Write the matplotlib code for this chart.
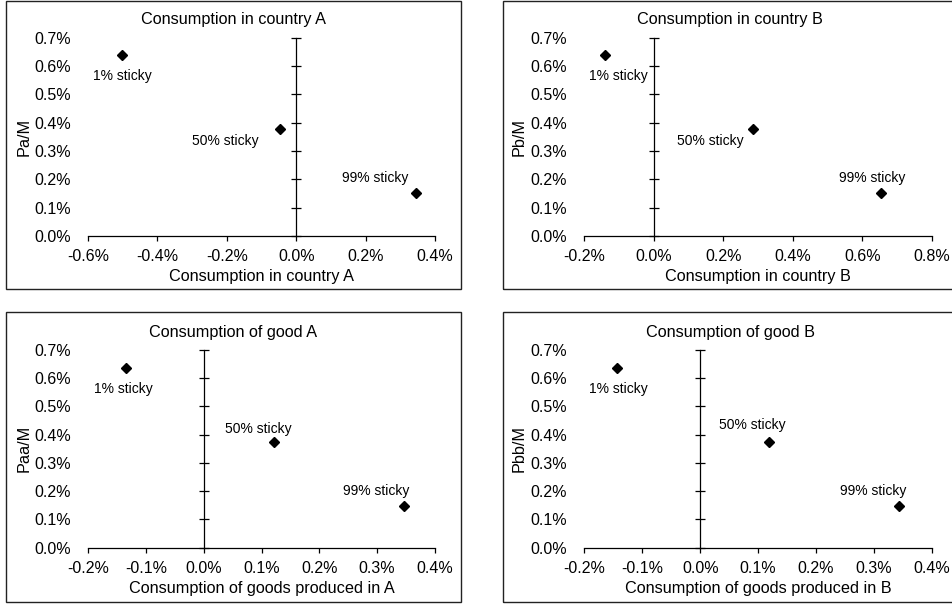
import matplotlib
matplotlib.use("Agg")
import matplotlib.pyplot as plt
from matplotlib.patches import Rectangle
from matplotlib.ticker import FuncFormatter

plt.rcParams['font.family'] = ['Liberation Sans', 'DejaVu Sans']
plt.rcParams['font.size'] = 11.5
plt.rcParams['axes.unicode_minus'] = False

# data (values in percent)
labels = ["1% sticky", "50% sticky", "99% sticky"]

cons_a_x = [-0.503, -0.047, 0.344]
cons_a_y = [0.639, 0.377, 0.151]
cons_b_x = [-0.141, 0.286, 0.653]
cons_b_y = [0.639, 0.377, 0.151]
good_a_x = [-0.134, 0.121, 0.347]
good_a_y = [0.637, 0.374, 0.148]
good_b_x = [-0.144, 0.119, 0.343]
good_b_y = [0.637, 0.374, 0.148]

titles = ["Consumption in country A", "Consumption in country B",
          "Consumption of good A", "Consumption of good B"]
xlabels = ["Consumption in country A", "Consumption in country B",
           "Consumption of goods produced in A", "Consumption of goods produced in B"]
ylabels = ["Pa/M", "Pb/M", "Paa/M", "Pbb/M"]
xticks_list = [[-0.6, -0.4, -0.2, 0.0, 0.2, 0.4],
               [-0.2, 0.0, 0.2, 0.4, 0.6, 0.8],
               [-0.2, -0.1, 0.0, 0.1, 0.2, 0.3, 0.4],
               [-0.2, -0.1, 0.0, 0.1, 0.2, 0.3, 0.4]]
yticks = [0.0, 0.1, 0.2, 0.3, 0.4, 0.5, 0.6, 0.7]

# label offsets in pixels (text centre relative to point, y up)
offsets = [[(1, -21), (-55, -12), (-40, 15)],
           [(14, -21), (-43, -12), (-9, 15)],
           [(-3, -21), (-15, 13), (-28, 15)],
           [(2, -21), (-17, 17), (-26, 15)]]

W, H = 952, 606
fig = plt.figure(figsize=(W / 100, H / 100), dpi=100)

# axes rectangles in pixels: left, top, right, bottom
ax_px = [(88, 37.7, 435, 236), (584.3, 37.7, 932, 236),
         (88, 350, 435, 547.7), (584.3, 350, 932, 547.7)]
# outer boxes in pixels: left, top, right, bottom
box_px = [(6, 0.5, 461, 289), (502.7, 0.5, 958, 289),
          (6, 312, 461, 602), (502.7, 312, 958, 602)]

xs = [cons_a_x, cons_b_x, good_a_x, good_b_x]
ys = [cons_a_y, cons_b_y, good_a_y, good_b_y]

pct = FuncFormatter(lambda v, p: "%.1f%%" % v)

for i in range(4):
    l, t, r, b = ax_px[i]
    ax = fig.add_axes([l / W, 1 - b / H, (r - l) / W, (b - t) / H])
    bl, bt, br, bb = box_px[i]
    fig.patches.append(Rectangle((bl / W, 1 - bb / H), (br - bl) / W, (bb - bt) / H,
                                 transform=fig.transFigure, fill=False,
                                 edgecolor='#222222', linewidth=1.0))
    xt = xticks_list[i]
    ax.set_xlim(xt[0], xt[-1])
    ax.set_ylim(0, 0.7)
    ax.set_xticks(xt)
    ax.set_yticks(yticks)
    ax.xaxis.set_major_formatter(pct)
    ax.yaxis.set_major_formatter(pct)

    ax.spines['top'].set_visible(False)
    ax.spines['left'].set_visible(False)
    ax.spines['right'].set_position(('data', 0))
    ax.spines['right'].set_linewidth(0.9)
    ax.spines['bottom'].set_linewidth(0.9)
    ax.tick_params(axis='y', left=False, right=True, labelleft=True, labelright=False,
                   direction='inout', length=7, width=0.9, pad=9)
    ax.tick_params(axis='x', direction='out', length=3.5, width=0.9, pad=6)

    ax.plot(xs[i], ys[i], linestyle='none', marker='D', markersize=5.5, color='black')
    for j in range(3):
        ax.annotate(labels[j], (xs[i][j], ys[i][j]), xytext=offsets[i][j],
                    textcoords='offset pixels', ha='center', va='center', fontsize=10)

    ax.set_xlabel(xlabels[i], fontsize=11.7)
    ax.xaxis.label.set_va('center')
    ax.xaxis.set_label_coords(0.5, -40.7 / (b - t))
    ax.set_ylabel(ylabels[i], fontsize=11.7)
    ax.yaxis.label.set_va('center')
    ax.yaxis.set_label_coords((24 - 88) / (r - l) if i % 2 == 0 else (518.7 - 584.3) / (r - l), 0.5)

    fig.text(((bl + br) / 2) / W, 1 - (t - 18) / H, titles[i], ha='center', va='center',
             fontsize=11.7)

fig.savefig("out.png", dpi=100)
